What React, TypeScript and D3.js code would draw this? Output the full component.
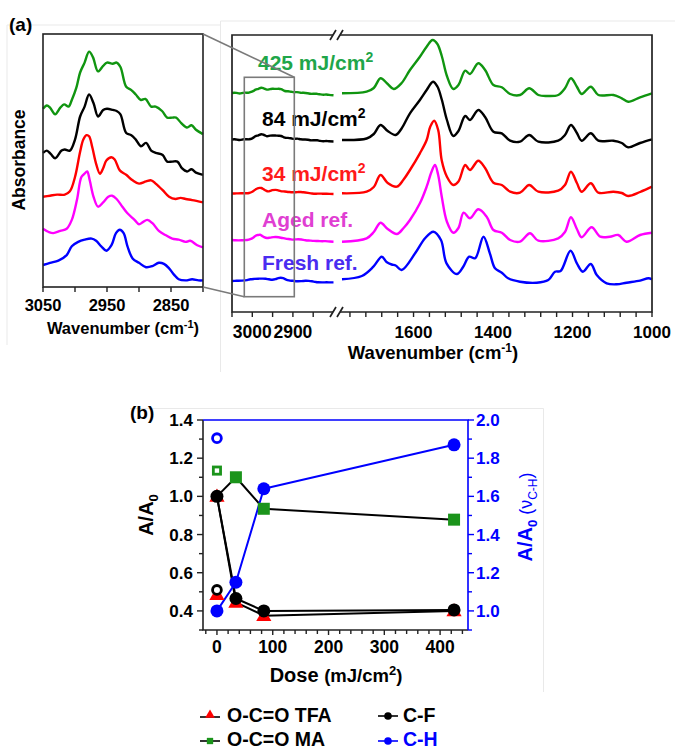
import React from "react";
import * as d3 from "d3";

type Pt = [number, number];

const FONT = "'Liberation Sans', Arial, Helvetica, sans-serif";

// ---------- (a) FTIR spectra ----------
// [wavenumber (cm-1), absorbance (mA, relative to the trace's own level)]
// C-H stretching window, 3050-2800 cm-1
const chGreen: Pt[] = [[3050,0],[3044,3],[3039,1],[3031,-5],[3023,1],[3017,4],[3010,2],[3005,8],[2998,19],[2992,33],[2985,42],[2978,52],[2972,47],[2964,34],[2956,39],[2950,42],[2941,41],[2935,42],[2929,38],[2920,20],[2912,17],[2905,13],[2897,8],[2890,9],[2881,2],[2874,2],[2864,-2],[2856,-8],[2848,-8],[2842,-8],[2834,-13],[2825,-17],[2818,-15],[2811,-19],[2800,-23]];
const chBlack: Pt[] = [[3050,0],[3044,2],[3038,-1],[3031,-5],[3021,2],[3016,3],[3008,2],[3000,12],[2992,33],[2985,42],[2978,53],[2971,45],[2964,33],[2956,39],[2950,40],[2941,39],[2935,38],[2929,35],[2920,18],[2912,16],[2905,12],[2897,6],[2889,9],[2881,2],[2874,0],[2863,-2],[2856,-8],[2848,-8],[2840,-8],[2833,-14],[2825,-17],[2818,-15],[2811,-18],[2800,-20]];
const chRed: Pt[] = [[3050,0],[3039,1],[3028,2],[3016,2],[3008,5],[3000,18],[2992,41],[2987,52],[2982,56],[2978,55],[2973,45],[2967,30],[2961,21],[2956,26],[2951,33],[2943,36],[2938,34],[2930,24],[2920,20],[2910,15],[2900,12],[2889,14],[2881,15],[2874,12],[2863,6],[2853,0],[2843,-2],[2835,-1],[2827,-2],[2817,-3],[2800,-5]];
const chMagenta: Pt[] = [[3050,0],[3041,-3],[3034,-4],[3023,-2],[3013,0],[3005,8],[2997,26],[2990,47],[2985,50],[2981,52],[2977,44],[2971,29],[2964,20],[2956,24],[2948,29],[2942,30],[2935,27],[2926,20],[2918,14],[2907,8],[2900,4],[2894,6],[2887,8],[2879,5],[2869,-2],[2858,-6],[2848,-9],[2838,-10],[2827,-12],[2820,-11],[2809,-15],[2800,-17]];
const chBlue: Pt[] = [[3050,0],[3039,2],[3026,4],[3013,9],[3005,17],[2995,21],[2985,23],[2974,24],[2967,22],[2959,17],[2951,13],[2943,18],[2936,29],[2930,32],[2924,29],[2918,17],[2910,6],[2900,2],[2889,-2],[2879,-1],[2869,2],[2861,1],[2853,-3],[2845,-9],[2838,-13],[2827,-14],[2817,-13],[2807,-14],[2800,-14]];

// Fingerprint window, 1780-1000 cm-1
const fpGreen: Pt[] = [[1780,-3],[1718,13],[1700,50],[1683,147],[1665,90],[1650,40],[1630,100],[1609,230],[1584,363],[1567,463],[1552,530],[1540,490],[1529,370],[1516,170],[1500,40],[1487,80],[1470,223],[1458,190],[1437,297],[1420,230],[1399,80],[1378,57],[1357,-10],[1332,-20],[1309,47],[1286,-20],[1265,-30],[1236,-20],[1219,47],[1204,147],[1189,63],[1177,-10],[1154,63],[1135,-20],[1097,-20],[1076,-53],[1060,-87],[1030,-43],[1000,-3]];
const fpBlack: Pt[] = [[1780,-5],[1718,10],[1700,55],[1683,145],[1665,85],[1645,45],[1630,110],[1609,262],[1584,395],[1567,495],[1551,578],[1540,530],[1529,400],[1516,195],[1500,35],[1487,85],[1470,235],[1458,195],[1437,295],[1420,225],[1399,78],[1378,62],[1357,-12],[1332,-22],[1309,45],[1286,-22],[1236,-12],[1219,45],[1204,145],[1189,65],[1177,-12],[1154,62],[1135,-12],[1097,-12],[1076,-35],[1060,-78],[1030,-35],[1000,2]];
const fpRed: Pt[] = [[1780,2],[1718,18],[1700,65],[1683,185],[1665,105],[1642,68],[1625,140],[1609,235],[1584,402],[1567,535],[1558,668],[1548,728],[1538,635],[1529,330],[1516,168],[1500,85],[1487,120],[1470,285],[1458,235],[1437,328],[1420,255],[1399,108],[1378,85],[1357,18],[1332,8],[1309,85],[1286,18],[1236,28],[1219,85],[1204,218],[1189,105],[1177,18],[1154,102],[1135,8],[1097,18],[1076,5],[1060,-25],[1030,15],[1000,68]];
const fpMagenta: Pt[] = [[1780,-17],[1718,17],[1700,80],[1683,173],[1665,110],[1642,60],[1625,120],[1609,200],[1584,367],[1567,533],[1555,680],[1546,750],[1538,650],[1529,433],[1516,183],[1500,73],[1487,120],[1474,273],[1458,217],[1437,307],[1416,233],[1399,100],[1378,73],[1357,0],[1332,-17],[1307,67],[1286,-7],[1236,17],[1219,80],[1204,227],[1189,110],[1177,27],[1152,127],[1130,33],[1106,33],[1085,50],[1064,-17],[1030,50],[1000,73]];
const fpBlue: Pt[] = [[1780,17],[1730,50],[1701,143],[1680,243],[1668,190],[1655,165],[1645,155],[1630,110],[1596,277],[1571,427],[1550,493],[1531,410],[1517,177],[1491,70],[1475,143],[1460,243],[1445,227],[1424,443],[1408,277],[1395,127],[1378,83],[1362,27],[1332,-7],[1290,-17],[1261,10],[1244,93],[1230,100],[1205,303],[1189,177],[1174,93],[1154,170],[1139,60],[1114,-23],[1089,-33],[1064,-17],[1030,3],[1009,27],[1000,17]];

const chSeries = [chGreen, chBlack, chRed, chMagenta, chBlue];
const fpSeries = [fpGreen, fpBlack, fpRed, fpMagenta, fpBlue];
const traceNames = ["425 mJ/cm", "84 mJ/cm", "34 mJ/cm", "Aged ref.", "Fresh ref."];
const traceSup = ["2", "2", "2", "", ""];
// vertical stacking offsets (mA)
const mainOffsets = [2190, 1725, 1185, 720, 310];
const insetOffsets = [162, 122, 82, 53, 20];

const hiTicks = [3050, 3000, 2950, 2900, 2850];
const hiLabels = [3000, 2900];
const loTicks = d3.range(1760, 999, -40);
const loLabels = [1600, 1400, 1200, 1000];
const insetTicks = [3050, 3000, 2950, 2900, 2850, 2800];
const insetLabels = [3050, 2950, 2850];

// ---------- (b) normalised band areas vs dose ----------
const doses = [0, 34, 84, 425];
const tfaRatio = [1.0, 0.445, 0.375, 0.4];
const maRatio = [1.0, 1.1, 0.935, 0.878];
const cfRatio = [1.0, 0.465, 0.4, 0.405];
const chRatio = [1.0, 1.15, 1.64, 1.87];
// aged reference (open symbols at dose 0)
const agedTfa = 0.48;
const agedMa = 1.135;
const agedCf = 0.51;
const agedCh = 1.905;

const doseMajor = [0, 100, 200, 300, 400];
const doseMinor = d3.range(-20, 441, 20);
const leftMajor = [4, 6, 8, 10, 12, 14].map((v) => v / 10);
const leftMinor = d3.range(3, 15).map((v) => v / 10);
const rightMajor = [10, 12, 14, 16, 18, 20].map((v) => v / 10);
const rightMinor = d3.range(9, 21).map((v) => v / 10);

// styles
const traceColors = ["#109510", "#000000", "#ff0000", "#ff00ff", "#0000ff"];
const labelColors = ["#1fa64a", "#000000", "#ff1a1a", "#e03fd2", "#4a2cf0"];
const labelPos: Pt[] = [[258, 70], [262, 126], [262, 181], [262, 227], [262, 270]];
const BLUE = "#0000ff";
const GREEN = "#1b941b";
const RED = "#ff0000";
const FAINT = "#e9e9e9";

const sym = (type: d3.SymbolType, size: number) =>
  d3.symbol().type(type).size(size)() as string;

export default function App() {
  // ---- panel (a) scales
  const xHi = d3.scaleLinear().domain([3050, 2800]).range([232, 333.5]);
  const xLo = d3.scaleLinear().domain([1780, 1000]).range([342, 652]);
  const yMain = d3.scaleLinear().domain([0, 2770]).range([312, 35]);
  const xIn = d3.scaleLinear().domain([3050, 2800]).range([43, 203]);
  const yIn = d3.scaleLinear().domain([0, 230]).range([287, 34]);

  const curve = d3.curveCatmullRom.alpha(0.5);
  const spec = (pts: Pt[], xs: d3.ScaleLinear<number, number>, ys: d3.ScaleLinear<number, number>, off: number) =>
    d3.line<Pt>().x((d) => xs(d[0])).y((d) => ys(off + d[1])).curve(curve)(pts) as string;

  // ---- panel (b) scales
  const xD = d3.scaleLinear().domain([-25, 450]).range([203, 468]);
  const yL = d3.scaleLinear().domain([0.3, 1.4]).range([630, 420]);
  const yR = d3.scaleLinear().domain([0.9, 2.0]).range([630, 420]);
  const bLine = (vals: number[], ys: d3.ScaleLinear<number, number>) =>
    d3.line<number>().x((_, i) => xD(doses[i])).y((v) => ys(v))(vals) as string;

  const tri = sym(d3.symbolTriangle, 100);
  const sq = sym(d3.symbolSquare, 144);
  const triL = sym(d3.symbolTriangle, 40);
  const sqL = sym(d3.symbolSquare, 40);

  const mainBottom = 312;
  const mainTop = 35;

  return (
    <svg width={675} height={751} viewBox="0 0 675 751"
      style={{ position: "absolute", left: 0, top: 0, background: "#fff" }}
      fontFamily={FONT}>
      <rect x={0} y={0} width={675} height={751} fill="#fff" />

      {/* faint panel outlines */}
      <g stroke={FAINT} strokeWidth={1} fill="none">
        <path d="M7,25 H220 M7,25 V345" />
        <path d="M220.5,21 H675 M220.5,21 V372" />
        <path d="M130,408.5 H543.5 V692" />
      </g>

      {/* ================= (a) ================= */}
      <text x={9} y={31} fontSize={19} fontWeight="bold">(a)</text>

      {/* inset */}
      <g>
        {chSeries.map((s, i) => (
          <path key={i} d={spec(s, xIn, yIn, insetOffsets[i])} fill="none"
            stroke={traceColors[i]} strokeWidth={2.4} strokeLinejoin="round" />
        ))}
        <rect x={43} y={34} width={160} height={253} fill="none" stroke="#222" strokeWidth={1.6} />
        {insetTicks.map((t) => (
          <line key={t} x1={xIn(t)} x2={xIn(t)} y1={287} y2={292} stroke="#222" strokeWidth={1.4} />
        ))}
        {insetLabels.map((t) => (
          <text key={t} x={xIn(t)} y={311} fontSize={16.5} fontWeight="bold" textAnchor="middle">{t}</text>
        ))}
        <text x={123} y={334} fontSize={16.5} fontWeight="bold" textAnchor="middle">
          Wavenumber (cm<tspan fontSize={11} dy={-6}>-1</tspan><tspan dy={6}>)</tspan>
        </text>
        <text transform="translate(25,160) rotate(-90)" fontSize={17.5} fontWeight="bold" textAnchor="middle">Absorbance</text>
      </g>

      {/* main spectra */}
      <g>
        {chSeries.map((s, i) => (
          <path key={"h" + i} d={spec(s, xHi, yMain, mainOffsets[i])} fill="none"
            stroke={traceColors[i]} strokeWidth={2.4} strokeLinejoin="round" />
        ))}
        {fpSeries.map((s, i) => (
          <path key={"l" + i} d={spec(s, xLo, yMain, mainOffsets[i])} fill="none"
            stroke={traceColors[i]} strokeWidth={2.4} strokeLinejoin="round" />
        ))}
        {traceNames.map((n, i) => (
          <text key={n} x={labelPos[i][0]} y={labelPos[i][1]} fontSize={21} fontWeight="bold" fill={labelColors[i]}>
            {n}
            {traceSup[i] && <tspan fontSize={14} dy={-8}>{traceSup[i]}</tspan>}
          </text>
        ))}

        {/* frame with axis break */}
        <g stroke="#222" strokeWidth={1.7} fill="none">
          <path d={`M333,${mainTop} H232 V${mainBottom} H333`} />
          <path d={`M340,${mainTop} H652 V${mainBottom} H340`} />
          <path d={`M330,${mainBottom + 5} L336,${mainBottom - 5} M337,${mainBottom + 5} L343,${mainBottom - 5}`} />
          <path d={`M330,${mainTop + 5} L336,${mainTop - 5} M337,${mainTop + 5} L343,${mainTop - 5}`} />
        </g>
        {hiTicks.map((t) => (
          <line key={"ht" + t} x1={xHi(t)} x2={xHi(t)} y1={mainBottom} y2={mainBottom + 5} stroke="#222" strokeWidth={1.4} />
        ))}
        {loTicks.map((t) => (
          <line key={"lt" + t} x1={xLo(t)} x2={xLo(t)} y1={mainBottom} y2={mainBottom + 5} stroke="#222" strokeWidth={1.4} />
        ))}
        {hiLabels.map((t) => (
          <text key={"hl" + t} x={xHi(t)} y={338} fontSize={17.5} fontWeight="bold" textAnchor="middle">{t}</text>
        ))}
        {loLabels.map((t) => (
          <text key={"ll" + t} x={xLo(t)} y={338} fontSize={17} fontWeight="bold" textAnchor="middle">{t}</text>
        ))}
        <text x={433} y={359} fontSize={18.5} fontWeight="bold" textAnchor="middle">
          Wavenumber (cm<tspan fontSize={12} dy={-7}>-1</tspan><tspan dy={7}>)</tspan>
        </text>

        {/* zoom window and connectors */}
        <g stroke="#7a7a7a" strokeWidth={1.6} fill="none">
          <rect x={244.3} y={77.3} width={50} height={219.4} />
          <line x1={203} y1={34} x2={294.3} y2={77.3} />
          <line x1={203} y1={287} x2={244.3} y2={296.7} />
        </g>
      </g>

      {/* ================= (b) ================= */}
      <text x={130} y={419} fontSize={19} fontWeight="bold">(b)</text>

      {/* frame */}
      <g fill="none" strokeWidth={1.6}>
        <path d="M203,420 V630 H468" stroke="#222" />
        <path d="M203,420 H468 V630" stroke={BLUE} />
      </g>
      {leftMinor.map((v) => (
        <line key={"lm" + v} x1={203} x2={leftMajor.some((m) => Math.abs(m - v) < 1e-6) ? 197 : 199} y1={yL(v)} y2={yL(v)} stroke="#222" strokeWidth={1.4} />
      ))}
      {leftMajor.map((v) => (
        <text key={"lt" + v} x={193} y={yL(v) + 6} fontSize={17} fontWeight="bold" textAnchor="end">{v.toFixed(1)}</text>
      ))}
      {rightMinor.map((v) => (
        <line key={"rm" + v} x1={468} x2={rightMajor.some((m) => Math.abs(m - v) < 1e-6) ? 474 : 472} y1={yR(v)} y2={yR(v)} stroke={BLUE} strokeWidth={1.4} />
      ))}
      {rightMajor.map((v) => (
        <text key={"rt" + v} x={476} y={yR(v) + 6} fontSize={17} fontWeight="bold" fill={BLUE}>{v.toFixed(1)}</text>
      ))}
      {doseMinor.map((v) => (
        <line key={"dm" + v} x1={xD(v)} x2={xD(v)} y1={630} y2={doseMajor.includes(v) ? 635 : 634} stroke="#222" strokeWidth={1.4} />
      ))}
      {doseMajor.map((v) => (
        <text key={"dt" + v} x={xD(v)} y={653} fontSize={17.5} fontWeight="bold" textAnchor="middle">{v}</text>
      ))}

      {/* axis titles */}
      <text x={336} y={682} fontWeight="bold" textAnchor="middle">
        <tspan fontSize={20}>Dose </tspan>
        <tspan fontSize={18.5}>(mJ/cm</tspan>
        <tspan fontSize={13} dy={-7}>2</tspan>
        <tspan fontSize={18.5} dy={7}>)</tspan>
      </text>
      <text transform="translate(153,515) rotate(-90)" fontWeight="bold" textAnchor="middle">
        <tspan fontSize={20}>A/A</tspan>
        <tspan fontSize={13} dy={5}>0</tspan>
      </text>
      <text transform="translate(532,517) rotate(-90)" textAnchor="middle" fill={BLUE}>
        <tspan fontSize={20} fontWeight="bold">A/A</tspan>
        <tspan fontSize={13} fontWeight="bold" dy={5}>0</tspan>
        <tspan fontSize={18} dy={-5}> (ν</tspan>
        <tspan fontSize={12} dy={5}>C-H</tspan>
        <tspan fontSize={18} dy={-5}>)</tspan>
      </text>

      {/* series lines */}
      <g fill="none" strokeWidth={2} strokeLinejoin="round">
        <path d={bLine(maRatio, yL)} stroke="#000" />
        <path d={bLine(tfaRatio, yL)} stroke="#000" />
        <path d={bLine(cfRatio, yL)} stroke="#000" />
        <path d={bLine(chRatio, yR)} stroke={BLUE} />
      </g>

      {/* aged reference (open symbols) */}
      <path d={tri} transform={`translate(${xD(0)},${yL(agedTfa)})`} fill={RED} />
      <circle cx={xD(0)} cy={yL(agedCf)} r={4.4} fill="#fff" stroke="#000" strokeWidth={2.8} />
      <rect x={xD(0) - 3.6} y={yL(agedMa) - 3.6} width={7.2} height={7.2} fill="#fff" stroke={GREEN} strokeWidth={2.8} />
      <circle cx={xD(0)} cy={yR(agedCh)} r={4.4} fill="#fff" stroke={BLUE} strokeWidth={2.8} />

      {/* filled symbols */}
      {doses.map((d, i) => i > 0 && (
        <path key={"ma" + d} d={sq} transform={`translate(${xD(d)},${yL(maRatio[i])})`} fill={GREEN} />
      ))}
      {doses.map((d, i) => (
        <path key={"tfa" + d} d={tri} transform={`translate(${xD(d)},${yL(tfaRatio[i]) + 1})`} fill={RED} />
      ))}
      {doses.map((d, i) => (
        <circle key={"cf" + d} cx={xD(d)} cy={yL(cfRatio[i])} r={6.5} fill="#000" />
      ))}
      {doses.map((d, i) => (
        <circle key={"ch" + d} cx={xD(d)} cy={yR(chRatio[i])} r={6.5} fill={BLUE} />
      ))}

      {/* legend */}
      <g fontSize={19.5} fontWeight="bold">
        <line x1={200} x2={220} y1={717} y2={717} stroke="#000" strokeWidth={1.6} />
        <path d={triL} transform="translate(210,715)" fill={RED} />
        <text x={227} y={722}>O-C=O TFA</text>

        <line x1={200} x2={220} y1={741} y2={741} stroke="#000" strokeWidth={1.6} />
        <path d={sqL} transform="translate(210,741)" fill={GREEN} />
        <text x={227} y={746}>O-C=O MA</text>

        <line x1={378} x2={398} y1={716} y2={716} stroke="#000" strokeWidth={1.6} />
        <circle cx={388} cy={716} r={3.8} fill="#000" />
        <text x={403} y={722}>C-F</text>

        <line x1={378} x2={398} y1={741} y2={741} stroke={BLUE} strokeWidth={1.6} />
        <circle cx={388} cy={741} r={3.8} fill={BLUE} />
        <text x={403} y={746} fill={BLUE}>C-H</text>
      </g>
    </svg>
  );
}
